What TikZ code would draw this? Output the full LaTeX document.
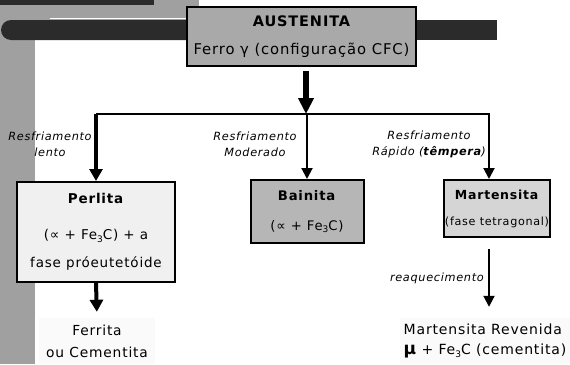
\documentclass[tikz,border=0pt]{standalone}
\usepackage{fontspec}
\setmainfont{DejaVu Sans}[LetterSpace=6]
\usepackage{tikz}
\usetikzlibrary{arrows.meta}

\definecolor{sidegray}{HTML}{A0A0A0}
\definecolor{bardark}{HTML}{2B2B2B}
\definecolor{austgray}{HTML}{A9A9A9}
\definecolor{baingray}{HTML}{B6B6B6}
\definecolor{martgray}{HTML}{D5D5D5}
\definecolor{perlgray}{HTML}{F0F0F0}
\definecolor{notegray}{HTML}{FAFAFA}
\newcommand{\lowidx}[1]{\raisebox{-0.35ex}{\fontsize{9}{9}\selectfont #1}}

\begin{document}
\begin{tikzpicture}[x=1pt,y=-1pt]
    \tikzstyle{phase}=[draw=black,line width=2pt,align=center,inner sep=0pt]
    \tikzstyle{note}=[fill=notegray,inner sep=0pt]
    \tikzstyle{annot}=[font=\itshape\fontsize{11.3}{16}\selectfont,align=center,inner sep=0pt]
    \tikzstyle{flow}=[line width=2pt,-{Triangle[width=11pt,length=11pt]}]
    \tikzstyle{heavy flow}=[line width=4pt,-{Triangle[width=13pt,length=12pt]}]

    \useasboundingbox (0,0) rectangle (570,364);

    % Page decoration: side column and dark bars
    \fill[sidegray] (0,0) rectangle (35,364);
    \fill[sidegray] (0,0) rectangle (199,40);
    \fill[bardark] (0,0) rectangle (154,4.7);
    \draw[white,line width=1.2pt] (50,18.5) -- (190,18.5);
    \fill[bardark,rounded corners=10pt] (1,20) rectangle (200,40);
    \fill[bardark] (410,20) rectangle (497,40);

    % Parent phase
    \node[phase,fill=austgray,minimum width=229,minimum height=59,
          font=\fontsize{14.8}{28}\selectfont] (austenita) at (301.5,36.5)
        {{\bfseries\fontsize{14.5}{28}\selectfont AUSTENITA}\\Ferro γ (configuração CFC)};

    % Split point and bus ends
    \coordinate (bus) at (306,114);
    \coordinate (busL) at (96,114);
    \coordinate (busR) at (489,114);

    % Products of the cooling
    \node[phase,fill=perlgray,minimum width=158,minimum height=100,
          font=\fontsize{13.5}{28}\selectfont] (perlita) at (96,232)
        {\textbf{Perlita}\\[8pt](∝ + Fe\lowidx{3}C) + a\\fase próeutetóide};
    \node[phase,fill=baingray,minimum width=113,minimum height=63,
          font=\fontsize{13.2}{30}\selectfont] (bainita) at (307,211.5)
        {\textbf{Bainita}\\(∝ + Fe\lowidx{3}C)};
    \node[phase,fill=martgray,minimum width=106,minimum height=57,
          font=\fontsize{12.5}{26}\selectfont] (martensita) at (497,208.5)
        {\textbf{Martensita}\hspace{12pt}\\{\fontsize{11.2}{26}\selectfont(fase tetragonal)}};

    \node[note,minimum width=116,minimum height=46,align=center,
          font=\fontsize{13.8}{22}\selectfont] (ferrita) at (97,341)
        {Ferrita\\ou Cementita};
    \node[note,minimum width=170,minimum height=46,align=left,
          font=\fontsize{14}{20}\selectfont] (revenida) at (485,341)
        {Martensita Revenida\\{\bfseries\fontsize{17}{20}\selectfont μ} + Fe\lowidx{3}C (cementita)};

    % Connect the parent phase with the products
    \draw[heavy flow,line width=5.5pt,-{Triangle[width=15pt,length=16pt]},shorten <=4pt]
        (austenita.south -| bus) -- (bus);
    \draw[flow] (busL) -- (busR) -- (busR |- martensita.north);
    \draw[heavy flow] (busL) -- (perlita.north);
    \draw[flow] (bainita.north |- bus) -- (bainita.north);
    \draw[heavy flow,shorten >=6pt] (perlita.south) -- (ferrita.north);
    \draw[flow,shorten <=11pt,shorten >=11pt] (martensita.south -| busR) -- (revenida.north -| busR);

    % Annotate the transformations
    \node[annot] (slow) at (50,144) {Resfriamento\\lento};
    \node[annot] (moderate) at (255,144) {Resfriamento\\Moderado};
    \node[annot] (fast) at (429,144) {Resfriamento\\Rápido (\textbf{têmpera})};
    \node[annot,anchor=east] (reheat) at (484,278) {reaquecimento};
\end{tikzpicture}
\end{document}
